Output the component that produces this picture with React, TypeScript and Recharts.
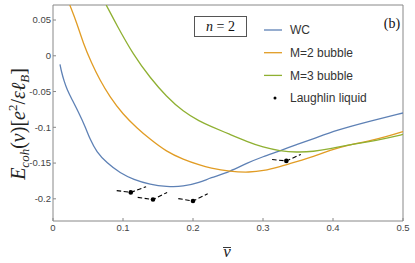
import { ComposedChart, Line, Scatter, XAxis, YAxis, ReferenceLine } from "recharts";

// WC curve
const wcNu = [0.01, 0.012, 0.016, 0.02, 0.027, 0.036, 0.046, 0.053, 0.062, 0.077, 0.096, 0.115, 0.139, 0.162, 0.186, 0.21, 0.224, 0.253, 0.277, 0.3, 0.324, 0.348, 0.372, 0.405, 0.45, 0.5];
const wcE = [-0.012, -0.022, -0.036, -0.047, -0.061, -0.078, -0.099, -0.117, -0.134, -0.15, -0.164, -0.173, -0.18, -0.183, -0.183, -0.177, -0.171, -0.162, -0.15, -0.141, -0.133, -0.124, -0.116, -0.104, -0.092, -0.08];

// M=2 bubble
const m2Nu = [0.024, 0.034, 0.043, 0.055, 0.067, 0.081, 0.1, 0.12, 0.139, 0.162, 0.186, 0.21, 0.224, 0.253, 0.281, 0.3, 0.324, 0.348, 0.372, 0.396, 0.42, 0.453, 0.477, 0.5];
const m2E = [0.071, 0.046, 0.018, -0.01, -0.034, -0.057, -0.082, -0.101, -0.117, -0.134, -0.145, -0.153, -0.157, -0.162, -0.163, -0.161, -0.155, -0.148, -0.141, -0.132, -0.125, -0.119, -0.113, -0.106];

// M=3 bubble
const m3Nu = [0.076, 0.091, 0.115, 0.139, 0.162, 0.186, 0.21, 0.224, 0.253, 0.277, 0.3, 0.324, 0.348, 0.372, 0.396, 0.42, 0.453, 0.477, 0.5];
const m3E = [0.071, 0.043, 0.001, -0.031, -0.057, -0.078, -0.092, -0.098, -0.11, -0.12, -0.128, -0.133, -0.135, -0.134, -0.13, -0.125, -0.12, -0.115, -0.11];

// Laughlin liquid energies and the dashed slopes on each side
const laughlinNu = [1 / 9, 1 / 7, 1 / 5, 1 / 3];
const laughlinE = [-0.191, -0.201, -0.203, -0.147];
const leftNu = [0.091, 0.121, 0.179, 0.313];
const leftE = [-0.1885, -0.198, -0.1997, -0.145];
const rightNu = [0.133, 0.163, 0.221, 0.354];
const rightE = [-0.183, -0.191, -0.193, -0.138];

const xTicks = [0, 0.1, 0.2, 0.3, 0.4, 0.5];
const yTicks = [-0.2, -0.15, -0.1, -0.05, 0, 0.05];

const legendNames = ["WC", "M=2 bubble", "M=3 bubble", "Laughlin liquid"];
const BLUE = "#5e81b5";
const ORANGE = "#e19c24";
const GREEN = "#8fb032";
const legendColors = [BLUE, ORANGE, GREEN, "#000"];

const pts = (nu: number[], e: number[]) => nu.map((v, i) => ({ nu: v, e: e[i] }));

const laughlinPts = pts(laughlinNu, laughlinE);
const segments = laughlinNu.map((v, i) => [
  { nu: leftNu[i], e: leftE[i] },
  { nu: v, e: laughlinE[i] },
  { nu: rightNu[i], e: rightE[i] },
]);

const fmt = (v: number) => (v === 0 ? "0" : String(v));

const tickStyle = { fontSize: 9.5, fill: "#444", fontFamily: "Liberation Sans, Arial, sans-serif" };

export default function App() {
  return (
    <div style={{ position: "absolute", left: 0, top: 0, width: 415, height: 263, background: "#fff" }}>
      <ComposedChart width={415} height={263} margin={{ top: 5, right: 12, bottom: 0, left: 0 }}>
        <XAxis
          type="number"
          dataKey="nu"
          domain={[0, 0.5]}
          ticks={xTicks}
          tickFormatter={fmt}
          height={42}
          tickSize={-3}
          tickMargin={6}
          tick={tickStyle}
          stroke="#888"
          allowDataOverflow
        />
        <YAxis
          type="number"
          dataKey="e"
          domain={[-0.231, 0.071]}
          ticks={yTicks}
          tickFormatter={fmt}
          width={53}
          tickSize={-3}
          tickMargin={5}
          tick={tickStyle}
          stroke="#888"
          allowDataOverflow
        />
        <ReferenceLine y={0.071} stroke="#888" />
        <ReferenceLine x={0.5} stroke="#888" />
        <Line data={pts(wcNu, wcE)} dataKey="e" type="basis" stroke={BLUE} strokeWidth={1.3} dot={false} isAnimationActive={false} />
        <Line data={pts(m2Nu, m2E)} dataKey="e" type="basis" stroke={ORANGE} strokeWidth={1.3} dot={false} isAnimationActive={false} />
        <Line data={pts(m3Nu, m3E)} dataKey="e" type="basis" stroke={GREEN} strokeWidth={1.3} dot={false} isAnimationActive={false} />
        {segments.map((seg, i) => (
          <Line
            key={i}
            data={seg}
            dataKey="e"
            type="linear"
            stroke="#000"
            strokeWidth={1.1}
            strokeDasharray="4.5 2.5"
            dot={false}
            isAnimationActive={false}
          />
        ))}
        <Scatter data={laughlinPts} dataKey="e" fill="#000" shape={(p: any) => <circle cx={p.cx} cy={p.cy} r={2.3} fill="#000" />} isAnimationActive={false} />
      </ComposedChart>
      <svg width={415} height={263} style={{ position: "absolute", left: 0, top: 0, pointerEvents: "none" }}>
        <g fontFamily="Liberation Serif, Times New Roman, serif">
          <text transform="translate(25,124) rotate(-90)" textAnchor="middle" fontSize={20} fill="#222">
            <tspan fontStyle="italic">E</tspan>
            <tspan fontStyle="italic" fontSize={13} dy={4}>coh</tspan>
            <tspan dy={-4}>(</tspan>
            <tspan fontStyle="italic">ν</tspan>
            <tspan>)[</tspan>
            <tspan fontStyle="italic">e</tspan>
            <tspan fontSize={13} dy={-8}>2</tspan>
            <tspan dy={8}>/</tspan>
            <tspan fontStyle="italic">εℓ</tspan>
            <tspan fontStyle="italic" fontSize={13} dy={4}>B</tspan>
            <tspan dy={-4}>]</tspan>
          </text>
          <text x={227} y={257} textAnchor="middle" fontSize={17} fontStyle="italic" fill="#222">ν</text>
          <line x1={223} x2={231} y1={247.5} y2={247.5} stroke="#222" strokeWidth={0.9} />
          <rect x={194.5} y={16.5} width={52} height={20} fill="#fff" stroke="#555" />
          <text x={220.5} y={31} textAnchor="middle" fontSize={14} fill="#111">
            <tspan fontStyle="italic">n</tspan> = 2
          </text>
          <text x={392} y={28} textAnchor="middle" fontSize={14} fill="#111">(b)</text>
        </g>
        <g fontFamily="Liberation Sans, Arial, sans-serif" fontSize={12} fill="#333">
          {legendNames.map((name, i) => {
            const y = 30 + i * 22.7;
            return (
              <g key={name}>
                {i < 3 ? (
                  <line x1={264} x2={282} y1={y} y2={y} stroke={legendColors[i]} strokeWidth={1.3} />
                ) : (
                  <circle cx={275} cy={y} r={1.5} fill="#000" />
                )}
                <text x={290} y={y + 4.2}>{name}</text>
              </g>
            );
          })}
        </g>
      </svg>
    </div>
  );
}
